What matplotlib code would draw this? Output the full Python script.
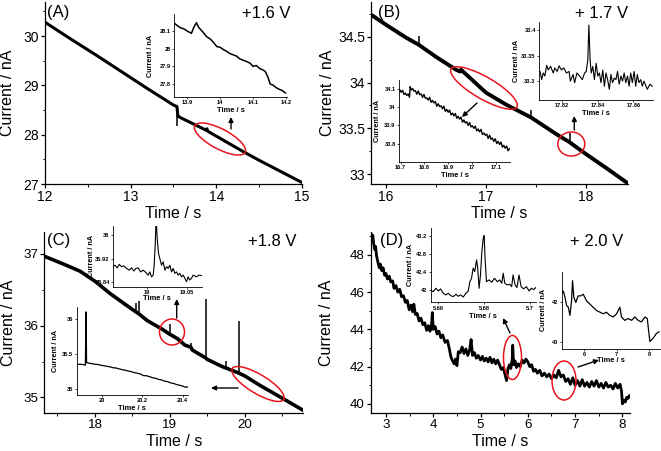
import matplotlib
matplotlib.use('Agg')
import matplotlib.pyplot as plt
from matplotlib.patches import Ellipse
from matplotlib.ticker import MultipleLocator, FixedLocator, FuncFormatter

plt.rcParams['font.family'] = ['Liberation Sans', 'DejaVu Sans']

# ---------------- data ----------------
# Panel A (+1.6 V)
A_t = [12.0, 12.3, 12.6, 12.9, 13.2, 13.5, 13.54, 13.55, 13.555, 13.6, 13.8,
       13.88, 13.89, 13.9, 14.1, 14.3, 14.5, 14.7, 14.9, 15.0]
A_I = [30.28, 29.94, 29.61, 29.27, 28.93, 28.60, 28.57, 28.40, 28.37, 28.33, 28.16,
       28.09, 28.12, 28.07, 27.87, 27.67, 27.48, 27.30, 27.12, 27.03]
A_spk_t = [13.545]
A_spk_base = [28.45]
A_spk_tip = [28.18]
Ai_t = [13.862, 13.870, 13.880, 13.890, 13.900, 13.913, 13.920, 13.928, 13.935, 13.945, 13.959,
        13.970, 13.980, 13.990, 14.000, 14.010, 14.020, 14.030, 14.040, 14.050, 14.060, 14.070,
        14.080, 14.091, 14.100, 14.110, 14.120, 14.130, 14.137, 14.145, 14.152, 14.160, 14.170,
        14.180, 14.190, 14.198]
Ai_I = [28.143, 28.130, 28.118, 28.112, 28.100, 28.087, 28.120, 28.147, 28.120, 28.100, 28.068,
        28.055, 28.035, 28.012, 28.008, 27.995, 27.985, 27.972, 27.965, 27.958, 27.942, 27.935,
        27.928, 27.918, 27.900, 27.905, 27.888, 27.880, 27.871, 27.840, 27.800, 27.795, 27.780,
        27.770, 27.762, 27.750]

# Panel B (+1.7 V)
B_t = [15.85, 16.0, 16.2, 16.33, 16.5, 16.7, 16.74, 16.75, 17.0, 17.2, 17.45, 17.7, 17.835,
       18.0, 18.2, 18.42]
B_I = [34.74, 34.63, 34.49, 34.41, 34.28, 34.14, 34.12, 34.14, 33.89, 33.76, 33.62, 33.44, 33.35,
       33.22, 33.07, 32.90]
B_spk_t = [16.33, 17.45, 17.835]
B_spk_base = [34.41, 33.62, 33.35]
B_spk_tip = [34.51, 33.70, 33.45]
B1_t = [16.695, 16.702, 16.708, 16.714, 16.720, 16.726, 16.732, 16.737, 16.740, 16.744, 16.750,
        16.756, 16.762, 16.768, 16.774, 16.780, 16.786, 16.792, 16.798, 16.804, 16.810, 16.816,
        16.822, 16.828, 16.834, 16.840, 16.846, 16.852, 16.858, 16.864, 16.870, 16.876, 16.882,
        16.888, 16.894, 16.900, 16.906, 16.912, 16.918, 16.924, 16.930, 16.936, 16.942, 16.948,
        16.954, 16.960, 16.966, 16.972, 16.978, 16.984, 16.990, 16.996, 17.002, 17.008, 17.014,
        17.020, 17.026, 17.032, 17.038, 17.044, 17.050, 17.056, 17.062, 17.068, 17.074, 17.080,
        17.086, 17.092, 17.098, 17.104, 17.110, 17.116, 17.122, 17.128, 17.134, 17.140, 17.146,
        17.152, 17.158]
B1_I = [34.100, 34.083, 34.094, 34.071, 34.078, 34.066, 34.074, 34.055, 34.114, 34.096, 34.104,
        34.090, 34.092, 34.073, 34.090, 34.070, 34.074, 34.055, 34.071, 34.050, 34.052, 34.040,
        34.055, 34.028, 34.038, 34.024, 34.032, 34.006, 34.020, 34.004, 34.008, 33.992, 34.006,
        33.978, 33.988, 33.973, 33.985, 33.958, 33.968, 33.953, 33.966, 33.940, 33.950, 33.935,
        33.946, 33.918, 33.930, 33.914, 33.920, 33.900, 33.916, 33.892, 33.898, 33.884, 33.896,
        33.870, 33.880, 33.865, 33.878, 33.850, 33.858, 33.846, 33.852, 33.828, 33.846, 33.824,
        33.830, 33.812, 33.826, 33.800, 33.812, 33.795, 33.808, 33.780, 33.790, 33.774, 33.786,
        33.760, 33.772]
B2_t = [17.8076, 17.8085, 17.8094, 17.8103, 17.8113, 17.8122, 17.8135, 17.8150, 17.8159, 17.8172,
        17.8183, 17.8196, 17.8209, 17.8224, 17.8239, 17.8246, 17.8261, 17.8270, 17.8283, 17.8298,
        17.8313, 17.8326, 17.8335, 17.8344, 17.8350, 17.8357, 17.8363, 17.8372, 17.8381, 17.8391,
        17.8400, 17.8409, 17.8418, 17.8428, 17.8437, 17.8446, 17.8455, 17.8465, 17.8474, 17.8483,
        17.8493, 17.8502, 17.8511, 17.8520, 17.8530, 17.8539, 17.8548, 17.8557, 17.8567, 17.8576,
        17.8585, 17.8594, 17.8604, 17.8613, 17.8622, 17.8631, 17.8641, 17.8650, 17.8659, 17.8678,
        17.8693, 17.8705]
B2_I = [33.319, 33.303, 33.316, 33.310, 33.331, 33.322, 33.329, 33.316, 33.326, 33.319,
        33.330, 33.322, 33.326, 33.316, 33.319, 33.300, 33.313, 33.297, 33.316, 33.310,
        33.303, 33.316, 33.319, 33.341, 33.410, 33.341, 33.316, 33.329, 33.303, 33.335,
        33.310, 33.316, 33.297, 33.322, 33.290, 33.316, 33.303, 33.284, 33.313, 33.297,
        33.306, 33.303, 33.319, 33.294, 33.310, 33.300, 33.316, 33.297, 33.310, 33.290,
        33.316, 33.297, 33.319, 33.290, 33.313, 33.297, 33.303, 33.290, 33.300, 33.284,
        33.294, 33.290]

# Panel C (+1.8 V)
C_t = [17.32, 17.6, 17.8, 18.0, 18.2, 18.4, 18.55, 18.58, 18.7, 18.9, 19.0, 19.1, 19.2,
       19.28, 19.3, 19.48, 19.5, 19.7, 19.75, 19.92, 20.0, 20.2, 20.4, 20.6, 20.78]
C_I = [36.97, 36.85, 36.76, 36.62, 36.45, 36.30, 36.19, 36.17, 36.07, 35.95, 35.88, 35.82, 35.73,
       35.70, 35.66, 35.55, 35.53, 35.43, 35.41, 35.34, 35.30, 35.17, 35.05, 34.93, 34.82]
C_spk_t = [18.55, 18.59, 19.0, 19.28, 19.48, 19.75, 19.92]
C_spk_base = [36.19, 36.16, 35.88, 35.68, 35.55, 35.42, 35.34]
C_spk_tip = [36.32, 36.34, 36.03, 35.76, 36.37, 35.51, 36.07]
C1_t = [18.9565, 18.9594, 18.9623, 18.9648, 18.9677, 18.9706, 18.9740, 18.9773, 18.9802, 18.9831,
        18.9856, 18.9885, 18.9915, 18.9948, 18.9981, 19.0010, 19.0031, 19.0052, 19.0073, 19.0085,
        19.0098, 19.0110, 19.0123, 19.0140, 19.0156, 19.0177, 19.0198, 19.0219, 19.0240, 19.0260,
        19.0281, 19.0302, 19.0323, 19.0344, 19.0365, 19.0385, 19.0406, 19.0427, 19.0448, 19.0469,
        19.0490, 19.0510, 19.0531, 19.0552, 19.0573, 19.0615, 19.0648, 19.0677]
C1_I = [35.892, 35.897, 35.888, 35.900, 35.892, 35.895, 35.886, 35.880, 35.888, 35.877,
        35.886, 35.888, 35.874, 35.880, 35.872, 35.863, 35.874, 35.857, 35.863, 35.897,
        35.966, 36.060, 35.989, 35.937, 35.920, 35.897, 35.909, 35.880, 35.892, 35.886,
        35.897, 35.874, 35.886, 35.869, 35.874, 35.863, 35.869, 35.857, 35.863, 35.852,
        35.840, 35.857, 35.846, 35.852, 35.863, 35.857, 35.863, 35.861]
C2_t = [19.873, 19.885, 19.897, 19.908, 19.916, 19.920, 19.922, 19.925, 19.935, 19.950, 19.965,
        19.980, 19.995, 20.010, 20.025, 20.040, 20.055, 20.070, 20.085, 20.100, 20.115, 20.130,
        20.145, 20.160, 20.175, 20.190, 20.205, 20.220, 20.235, 20.250, 20.265, 20.280, 20.295,
        20.310, 20.325, 20.340, 20.355, 20.370, 20.385, 20.400, 20.415, 20.425]
C2_I = [35.357, 35.350, 35.352, 35.344, 35.340, 36.100, 35.370, 35.378, 35.366, 35.360, 35.352,
        35.348, 35.336, 35.330, 35.322, 35.314, 35.302, 35.298, 35.285, 35.274, 35.266, 35.255,
        35.246, 35.232, 35.224, 35.212, 35.190, 35.188, 35.175, 35.160, 35.152, 35.136, 35.128,
        35.110, 35.104, 35.086, 35.078, 35.062, 35.052, 35.040, 35.022, 35.030]

# Panel D (+2.0 V)
D_t = [2.68, 2.70, 2.72, 2.74, 2.76, 2.78, 2.80, 2.83, 2.86, 2.88, 2.91, 2.94, 2.97, 3.00, 3.03,
       3.07, 3.10, 3.14, 3.17, 3.21, 3.25, 3.29, 3.33, 3.37, 3.41, 3.45, 3.49, 3.53, 3.56, 3.59,
       3.62, 3.66, 3.70, 3.74, 3.78, 3.82, 3.86, 3.90, 3.93, 3.96, 3.98, 4.00, 4.04, 4.08, 4.12,
       4.16, 4.20, 4.25, 4.30, 4.34, 4.37, 4.40, 4.44, 4.47, 4.50, 4.53, 4.57, 4.61, 4.65, 4.69,
       4.73, 4.77, 4.80, 4.83, 4.87, 4.91, 4.95, 5.00, 5.04, 5.08, 5.12, 5.16, 5.20, 5.24, 5.28,
       5.32, 5.36, 5.40, 5.44, 5.48, 5.52, 5.55, 5.58, 5.61, 5.64, 5.67, 5.68, 5.70, 5.73, 5.76,
       5.80, 5.84, 5.88, 5.92, 5.96, 6.00, 6.04, 6.08, 6.12, 6.16, 6.20, 6.25, 6.30, 6.35, 6.40,
       6.45, 6.50, 6.55, 6.60, 6.65, 6.70, 6.75, 6.80, 6.85, 6.90, 6.95, 7.00, 7.05, 7.10, 7.15,
       7.20, 7.25, 7.30, 7.35, 7.40, 7.45, 7.50, 7.55, 7.60, 7.65, 7.70, 7.75, 7.80, 7.85, 7.90,
       7.95, 7.98, 8.00, 8.03, 8.06, 8.09, 8.12, 8.15]
D_I = [49.15, 48.95, 49.05, 48.60, 48.30, 48.45, 47.95, 47.60, 47.30, 47.50, 47.15, 47.30, 46.90,
       47.00, 46.70, 46.85, 46.55, 46.60, 46.20, 46.35, 46.00, 46.15, 45.75, 45.80, 45.45, 45.55,
       45.05, 45.30, 44.95, 45.35, 44.80, 44.85, 44.45, 44.60, 44.25, 44.35, 43.95, 44.20, 43.90,
       44.10, 44.90, 44.00, 44.15, 43.75, 43.90, 43.55, 43.70, 43.30, 43.40, 42.95, 42.55, 42.35,
       42.15, 42.40, 42.05, 42.80, 42.75, 43.05, 42.70, 42.95, 42.60, 42.90, 43.45, 42.60, 42.75,
       42.45, 42.60, 42.35, 42.55, 42.30, 42.45, 42.25, 42.50, 42.20, 42.40, 42.15, 42.35, 42.10,
       41.85, 41.95, 41.55, 41.25, 41.90, 42.10, 41.90, 42.40, 43.15, 42.10, 42.30, 41.95, 42.15,
       42.00, 42.35, 42.20, 42.40, 42.25, 42.00, 42.10, 41.75, 41.85, 41.65, 41.80, 41.50, 41.65,
       41.45, 41.60, 41.35, 41.55, 41.40, 41.80, 41.45, 41.55, 41.20, 41.35, 41.05, 41.40, 41.00,
       41.25, 40.95, 41.30, 40.95, 41.15, 40.90, 41.20, 40.95, 41.25, 40.90, 41.10, 40.85, 41.15,
       40.90, 41.00, 40.80, 41.10, 40.85, 41.05, 40.70, 40.00, 40.20, 40.10, 40.35, 40.30, 40.45]
D1_t = [5.6567, 5.6578, 5.6590, 5.6600, 5.6610, 5.6622, 5.6633, 5.6643, 5.6654, 5.6665, 5.6677,
        5.6687, 5.6697, 5.6709, 5.6720, 5.6730, 5.6738, 5.6745, 5.6752, 5.6759, 5.6767, 5.6772,
        5.6778, 5.6784, 5.6790, 5.6796, 5.6800, 5.6804, 5.6810, 5.6822, 5.6833, 5.6845, 5.6857,
        5.6868, 5.6877, 5.6883, 5.6890, 5.6900, 5.6912, 5.6920, 5.6926, 5.6935, 5.6943, 5.6952,
        5.6961, 5.6972, 5.6984, 5.6996, 5.7006, 5.7016, 5.7025]
D1_I = [42.000, 41.970, 42.044, 41.985, 42.030, 41.934, 41.897, 41.934, 41.883, 41.861, 41.912,
        41.868, 41.897, 41.853, 41.934, 41.971, 42.190, 42.264, 42.484, 42.410, 42.667, 42.480,
        42.044, 42.337, 42.850, 43.140, 43.200, 42.700, 42.190, 42.227, 42.176, 42.264, 42.190,
        42.227, 42.154, 42.374, 42.154, 42.117, 42.130, 42.080, 42.337, 42.117, 42.059, 42.337,
        42.080, 42.030, 42.080, 41.985, 42.044, 42.015, 42.059]
D2_t = [5.318, 5.37, 5.42, 5.47, 5.52, 5.57, 5.62, 5.65, 5.69, 5.75, 5.82, 5.89, 5.98, 6.08,
        6.18, 6.28, 6.39, 6.49, 6.59, 6.69, 6.79, 6.90, 7.00, 7.10, 7.15, 7.25, 7.36, 7.46, 7.56,
        7.66, 7.76, 7.87, 7.94, 7.98, 8.02, 8.12, 8.22, 8.30]
D2_I = [42.49, 42.57, 42.25, 41.84, 41.76, 41.35, 42.08, 43.10, 42.25, 42.00, 42.33, 42.33,
        42.41, 42.08, 41.92, 41.76, 41.59, 41.51, 41.43, 41.51, 41.35, 41.27, 41.43, 41.76,
        41.27, 41.10, 41.19, 41.10, 41.27, 41.10, 41.02, 41.27, 41.19, 40.60, 40.03, 40.20,
        40.44, 40.52]

# ---------------- figure ----------------
W, H = 661, 451
fig = plt.figure(figsize=(W / 100, H / 100), dpi=100)
fmt = FuncFormatter(lambda v, p: f'{v:g}')


def px_axes(l, t, r, b):
    return fig.add_axes([l / W, 1 - b / H, (r - l) / W, (b - t) / H])


def style(ax, xlim, ylim, xt, yt, xminor=None, yminor=None, main=True, lsize=10):
    ax.set_xlim(*xlim)
    ax.set_ylim(*ylim)
    ax.set_facecolor('none')
    for s in ('top', 'right'):
        ax.spines[s].set_visible(False)
    lw = 0.9 if main else 0.6
    for s in ('left', 'bottom'):
        ax.spines[s].set_linewidth(lw)
    ax.xaxis.set_major_locator(FixedLocator(xt))
    ax.yaxis.set_major_locator(FixedLocator(yt))
    ax.xaxis.set_major_formatter(fmt)
    ax.yaxis.set_major_formatter(fmt)
    if xminor:
        ax.xaxis.set_minor_locator(MultipleLocator(xminor))
    if yminor:
        ax.yaxis.set_minor_locator(MultipleLocator(yminor))
    if main:
        ax.tick_params(which='major', direction='out', length=3, width=0.9, labelsize=lsize, pad=1.2)
        ax.tick_params(which='minor', direction='out', length=1.8, width=0.7)
    else:
        ax.tick_params(which='major', direction='out', length=1.6, width=0.5, labelsize=4.1, pad=0.8)
        ax.tick_params(which='minor', length=0)
        for lab in ax.get_xticklabels() + ax.get_yticklabels():
            lab.set_fontweight('bold')


def labels(ax, ylx, xly, main=True):
    if main:
        ax.set_ylabel('Current / nA', fontsize=11.5)
        ax.set_xlabel('Time / s', fontsize=11.5)
    else:
        ax.set_ylabel('Current / nA', fontsize=5.2, fontweight='bold')
        ax.set_xlabel('Time / s', fontsize=5.4, fontweight='bold')
    ax.yaxis.set_label_coords(ylx, 0.5)
    ax.xaxis.set_label_coords(0.5, xly)


def trace(ax, t, i, lw, spk=None):
    ax.plot(t, i, color='k', lw=lw, solid_joinstyle='round', solid_capstyle='round')
    if spk:
        st, sb, sp = spk
        ax.vlines(st, sb, sp, color='k', lw=1.1)


# main panels
axA = px_axes(45, 2, 302, 184)
trace(axA, A_t, A_I, 2.2, (A_spk_t, A_spk_base, A_spk_tip))
style(axA, (12, 15), (27, 30.69), [12, 13, 14, 15], [27, 28, 29, 30], 0.5, 0.5)
labels(axA, -0.115, -0.12)

axB = px_axes(371, 2, 628, 184)
trace(axB, B_t, B_I, 2.8, (B_spk_t, B_spk_base, B_spk_tip))
style(axB, (15.85, 18.42), (32.894, 34.878), [16, 17, 18], [33, 33.5, 34, 34.5], 0.5, 0.25)
labels(axB, -0.14, -0.12)

axC = px_axes(44.3, 231.7, 303.3, 413)
trace(axC, C_t, C_I, 2.6, (C_spk_t, C_spk_base, C_spk_tip))
style(axC, (17.324, 20.78), (34.784, 37.31), [18, 19, 20], [35, 36, 37], 0.5, 0.5, lsize=9.6)
labels(axC, -0.11, -0.118)

axD = px_axes(370.7, 231.7, 630, 413)
trace(axD, D_t, D_I, 2.0)
style(axD, (2.677, 8.16), (39.51, 49.24), [3, 4, 5, 6, 7, 8], [40, 42, 44, 46, 48], 0.5, 1, lsize=9.6)
labels(axD, -0.14, -0.118)

# insets
iA = px_axes(174, 14, 287, 97)
iA.plot(Ai_t, Ai_I, color='k', lw=1.1)
style(iA, (13.86, 14.203), (27.727, 28.196), [13.9, 14.0, 14.1, 14.2], [27.8, 27.9, 28.0, 28.1], main=False)
labels(iA, -0.18, -0.12, main=False)

iB1 = px_axes(399, 80, 510, 162)
iB1.plot(B1_t, B1_I, color='k', lw=1.0)
style(iB1, (16.693, 17.16), (33.698, 34.151), [16.7, 16.8, 16.9, 17.0, 17.1], [33.8, 33.9, 34.0, 34.1], main=False)
labels(iB1, -0.16, -0.12, main=False)

iB2 = px_axes(539, 22, 653, 100)
iB2.plot(B2_t, B2_I, color='k', lw=0.8)
style(iB2, (17.807, 17.871), (33.263, 33.416), [17.82, 17.84, 17.86], [33.3, 33.35, 33.4], main=False)
labels(iB2, -0.17, -0.13, main=False)

iC1 = px_axes(113, 225.5, 201.7, 286.7)
iC1.plot(C1_t, C1_I, color='k', lw=0.8)
style(iC1, (18.957, 19.068), (35.823, 36.034), [19.0, 19.05], [35.84, 35.92, 36.0], main=False)
labels(iC1, -0.2, -0.14, main=False)

iC2 = px_axes(76.5, 307, 188.3, 394.5)
iC2.plot(C2_t, C2_I, color='k', lw=0.9)
style(iC2, (19.872, 20.428), (34.92, 36.17), [20.0, 20.2, 20.4], [35.0, 35.5, 36.0], main=False)
labels(iC2, -0.16, -0.12, main=False)

iD1 = px_axes(430.7, 228.3, 536, 302.3)
iD1.plot(D1_t, D1_I, color='k', lw=0.8)
style(iD1, (5.6567, 5.7026), (41.736, 43.36), [5.66, 5.68, 5.70], [42.0, 42.4, 42.8, 43.2], main=False)
labels(iD1, -0.16, -0.14, main=False)

iD2 = px_axes(561.7, 271.7, 660, 349)
iD2.plot(D2_t, D2_I, color='k', lw=0.9)
style(iD2, (5.318, 8.33), (39.656, 43.55), [6, 7, 8], [40, 42], main=False)
labels(iD2, -0.15, -0.1, main=False)

# overlay for annotations (pixel coordinates)
ov = fig.add_axes([0, 0, 1, 1], facecolor='none')
ov.set_xlim(0, W)
ov.set_ylim(H, 0)
ov.axis('off')
ov.set_zorder(10)

red = '#e8141c'
ellipses = [((220, 139), 57, 20, 28), ((484, 88), 76, 22, 30), ((571.3, 144), 27, 24, 0),
            ((172, 332), 25, 26, 0), ((258, 384), 60, 19, 31), ((512.5, 357.5), 18, 44, 0),
            ((564, 380.5), 24, 39, 0)]
for c, w, h, a in ellipses:
    ov.add_patch(Ellipse(c, w, h, angle=a, fill=False, edgecolor=red, lw=1.1))

arrows = [((231, 129), (231, 117)), ((477, 103), (462, 117)), ((574.3, 130), (574.3, 116)),
          ((176.7, 318), (176.7, 299)), ((238, 388), (211, 388)), ((510, 333), (503, 318)),
          ((578, 367), (599, 360))]
for tail, head in arrows:
    ov.annotate('', xy=head, xytext=tail,
                arrowprops=dict(arrowstyle='-|>', color='k', lw=1.0, mutation_scale=7,
                                shrinkA=0, shrinkB=0))

texts = [(47, 13, '(A)'), (242, 13, '+1.6 V'), (378, 13, '(B)'), (575, 13, '+ 1.7 V'),
         (47, 241, '(C)'), (248, 241, '+1.8 V'), (380, 241, '(D)'), (570, 241, '+ 2.0 V')]
for x, y, s in texts:
    ov.text(x, y, s, fontsize=12, ha='left', va='center')

fig.savefig('out.png', dpi=100)
